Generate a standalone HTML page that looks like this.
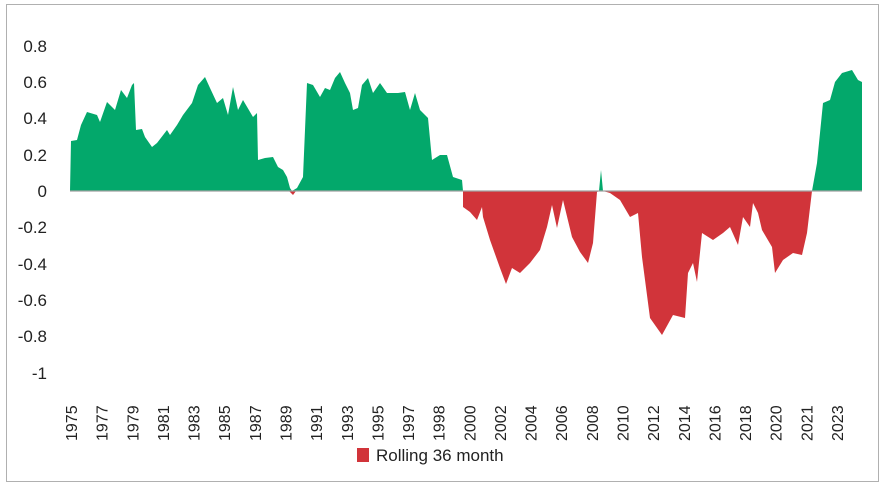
<!DOCTYPE html>
<html><head><meta charset="utf-8"><style>
html,body{margin:0;padding:0;background:#fff;}
svg{display:block;font-family:"Liberation Sans",Arial,sans-serif;}
</style></head><body>
<svg width="888" height="489" viewBox="0 0 888 489" xmlns="http://www.w3.org/2000/svg">
<rect x="6.5" y="4.5" width="872" height="477" fill="#fff" stroke="#b0b0b0" stroke-width="1"/>
<g font-size="17" fill="#222" text-anchor="end">
<text x="47" y="52">0.8</text><text x="47" y="88">0.6</text><text x="47" y="124">0.4</text>
<text x="47" y="161">0.2</text><text x="47" y="197">0</text><text x="47" y="233">-0.2</text>
<text x="47" y="270">-0.4</text><text x="47" y="306">-0.6</text><text x="47" y="342">-0.8</text>
<text x="47" y="379">-1</text>
</g>
<path fill="#03a86b" d="M70,191 L71,141 77,140 81,125 87,112 97,115 100,122 107,102 115,110 121,90 127,98 132,85 134,83 136,130 142,129 145,137 152,147 157,143 167,130 170,135 177,125 183,115 192,103 198,85 205,77 210,88 217,103 223,98 228,115 233,87 238,110 243,100 253,117 257,113 258,160 265,158 273,157 278,167 283,170 287,177 290,188 292,191 297,188 303,177 307,83 313,85 320,97 325,88 330,90 335,78 340,72 345,83 350,93 353,110 358,108 362,85 368,78 373,93 380,83 387,93 398,93 405,92 410,110 415,93 420,110 428,118 432,160 440,155 447,155 453,177 462,180 463,191 Z M599,191 L601,170 603,191 Z M812,191 L817,163 823,103 830,100 835,82 842,73 852,70 858,80 862,82 862,191 Z"/>
<path fill="#d1343a" d="M463,191 L463,207 470,212 477,220 482,207 483,217 490,240 500,268 506,284 512,268 520,273 530,263 540,250 547,227 552,205 557,228 563,200 572,237 580,252 588,263 593,243 597,192 599,191 Z M603,191 L610,193 620,200 630,217 638,213 642,257 650,318 662,335 673,315 685,318 688,273 693,263 697,282 702,233 713,240 723,233 730,227 738,245 743,217 750,227 753,203 758,213 762,230 772,247 775,273 783,260 793,253 802,255 807,233 812,191 Z M289,191 L293,195 296,191 Z"/>
<line x1="70" y1="191" x2="862" y2="191" stroke="#a0a0a0" stroke-width="1.3"/>
<g font-size="16" fill="#222">
<text transform="translate(77,441) rotate(-90)">1975</text>
<text transform="translate(107.6,441) rotate(-90)">1977</text>
<text transform="translate(138.3,441) rotate(-90)">1979</text>
<text transform="translate(168.9,441) rotate(-90)">1981</text>
<text transform="translate(199.6,441) rotate(-90)">1983</text>
<text transform="translate(230.2,441) rotate(-90)">1985</text>
<text transform="translate(260.8,441) rotate(-90)">1987</text>
<text transform="translate(291.5,441) rotate(-90)">1989</text>
<text transform="translate(322.1,441) rotate(-90)">1991</text>
<text transform="translate(352.8,441) rotate(-90)">1993</text>
<text transform="translate(383.4,441) rotate(-90)">1995</text>
<text transform="translate(414,441) rotate(-90)">1997</text>
<text transform="translate(444.7,441) rotate(-90)">1998</text>
<text transform="translate(475.3,441) rotate(-90)">2000</text>
<text transform="translate(506,441) rotate(-90)">2002</text>
<text transform="translate(536.6,441) rotate(-90)">2004</text>
<text transform="translate(567.2,441) rotate(-90)">2006</text>
<text transform="translate(597.9,441) rotate(-90)">2008</text>
<text transform="translate(628.5,441) rotate(-90)">2010</text>
<text transform="translate(659.2,441) rotate(-90)">2012</text>
<text transform="translate(689.8,441) rotate(-90)">2014</text>
<text transform="translate(720.4,441) rotate(-90)">2016</text>
<text transform="translate(751.1,441) rotate(-90)">2018</text>
<text transform="translate(781.7,441) rotate(-90)">2020</text>
<text transform="translate(812.4,441) rotate(-90)">2021</text>
<text transform="translate(843,441) rotate(-90)">2023</text>
</g>
<rect x="357" y="448" width="12" height="14" fill="#d1343a"/>
<text x="376" y="461" font-size="17" fill="#222">Rolling 36 month</text>
</svg>
</body></html>
